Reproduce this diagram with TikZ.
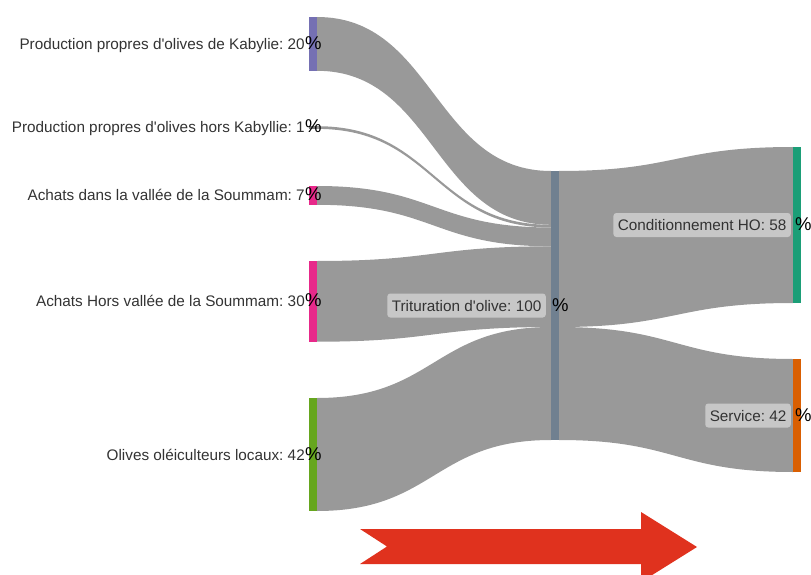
\documentclass[tikz,border=0pt]{standalone}
\usepackage{fontspec}
\setmainfont{Liberation Sans}
\usetikzlibrary{calc}
\definecolor{linkgray}{HTML}{999999}
\definecolor{txt}{HTML}{333333}
\definecolor{cpurple}{HTML}{7570B3}
\definecolor{cpink}{HTML}{E7298A}
\definecolor{cgreen}{HTML}{66A61E}
\definecolor{cteal}{HTML}{1B9E77}
\definecolor{corange}{HTML}{D95F02}
\definecolor{cslate}{HTML}{708090}
\definecolor{cred}{HTML}{E0321E}
\newcommand\band[4]{\fill[linkgray] let \p1=(#1),\p2=(#2),\p3=(#3),\p4=(#4) in
  (\p1) .. controls ({(\x1+\x3)/2},\y1) and ({(\x1+\x3)/2},\y3) .. (\p3)
  -- (\p4) .. controls ({(\x2+\x4)/2},\y4) and ({(\x2+\x4)/2},\y2) .. (\p2) -- cycle;}
\newcommand\q{\textquotesingle}
\tikzset{
  bar/.style={draw=none, inner sep=0pt, outer sep=0pt, minimum width=8pt, anchor=north west},
  lab/.style={font=\fontsize{15.3}{18}\selectfont\frenchspacing, text=txt, inner xsep=5pt, inner ysep=6.5pt,
     text height=11pt, text depth=0pt, anchor=east},
  boxlab/.style={lab, fill=white, fill opacity=0.45, text opacity=1, rounded corners=3pt, inner xsep=4.5pt},
  pct/.style={font=\fontsize{18.5}{20}\selectfont, text=black, inner sep=0pt, anchor=base west},
}
\begin{document}
\begin{tikzpicture}[x=1pt,y=-1pt]
\useasboundingbox (0,0) rectangle (811,575);
\clip (0,0) rectangle (811,575);
% bars (nodes)
\node[bar, fill=cpurple, minimum height=53.8pt] (kab) at (309,17) {};
\node[bar, fill=linkgray!80!black, minimum height=2.69pt] (hk) at (309,126.2) {};
\node[bar, fill=cpink, minimum height=18.8pt] (sou) at (309,186) {};
\node[bar, fill=cpink, minimum height=80.7pt] (hv) at (309,261) {};
\node[bar, fill=cgreen, minimum height=113pt] (loc) at (309,398) {};
\node[bar, fill=cslate, minimum height=269pt] (mid) at (551,171) {};
\node[bar, fill=cteal, minimum height=156pt] (cond) at (793,147) {};
\node[bar, fill=corange, minimum height=113pt] (serv) at (793,359) {};
% attachment points on the middle node
\coordinate (mL0) at (mid.north west);
\coordinate (mL1) at ([yshift=-53.8pt]mid.north west);
\coordinate (mL2) at ([yshift=-56.49pt]mid.north west);
\coordinate (mL3) at ([yshift=-75.32pt]mid.north west);
\coordinate (mL4) at ([yshift=-156.02pt]mid.north west);
\coordinate (mL5) at (mid.south west);
\coordinate (mR0) at (mid.north east);
\coordinate (mR1) at ([yshift=-156.02pt]mid.north east);
\coordinate (mR2) at (mid.south east);
% links
\band{kab.north east}{kab.south east}{mL0}{mL1}
\band{hk.north east}{hk.south east}{mL1}{mL2}
\band{sou.north east}{sou.south east}{mL2}{mL3}
\band{hv.north east}{hv.south east}{mL3}{mL4}
\band{loc.north east}{loc.south east}{mL4}{mL5}
\band{mR0}{mR1}{cond.north west}{cond.south west}
\band{mR1}{mR2}{serv.north west}{serv.south west}
% redraw bars on top of links
\fill[cpurple] (kab.north west) rectangle (kab.south east);
\fill[linkgray!80!black] (hk.north west) rectangle (hk.south east);
\fill[cpink] (sou.north west) rectangle (sou.south east);
\fill[cpink] (hv.north west) rectangle (hv.south east);
\fill[cgreen] (loc.north west) rectangle (loc.south east);
\fill[cslate] (mid.north west) rectangle (mid.south east);
\fill[cteal] (cond.north west) rectangle (cond.south east);
\fill[corange] (serv.north west) rectangle (serv.south east);
% labels
\node[lab] (lkab) at (310,43.9) {Production propres d\q olives de Kabylie: 20};
\node[pct] (pkab) at ([xshift=-5pt]lkab.base east) {\%};
\node[lab] (lhk) at (310,127.5) {Production propres d\q olives hors Kabyllie: 1};
\node[pct] (phk) at ([xshift=-5pt]lhk.base east) {\%};
\node[lab] (lsou) at (310,195.4) {Achats dans la vallée de la Soummam: 7};
\node[pct] (psou) at ([xshift=-5pt]lsou.base east) {\%};
\node[lab] (lhv) at (310,301.3) {Achats Hors vallée de la Soummam: 30};
\node[pct] (phv) at ([xshift=-5pt]lhv.base east) {\%};
\node[lab] (lloc) at (310,454.5) {Olives oléiculteurs locaux: 42};
\node[pct] (ploc) at ([xshift=-5pt]lloc.base east) {\%};
\node[boxlab] (lmid) at (546,305.5) {Trituration d\q olive: 100};
\node[pct] (pmid) at ([xshift=6pt]lmid.base east) {\%};
\node[boxlab] (lcond) at (791,225) {Conditionnement HO: 58};
\node[pct] (pcond) at ([xshift=4pt]lcond.base east) {\%};
\node[boxlab] (lserv) at (791,415.5) {Service: 42};
\node[pct] (pserv) at ([xshift=4pt]lserv.base east) {\%};
% red arrow
\fill[cred] (360,529) -- (641,529) -- (641,512) -- (697,547) -- (641,582)
  -- (641,564) -- (360,564) -- (387,546.5) -- cycle;
\end{tikzpicture}
\end{document}
